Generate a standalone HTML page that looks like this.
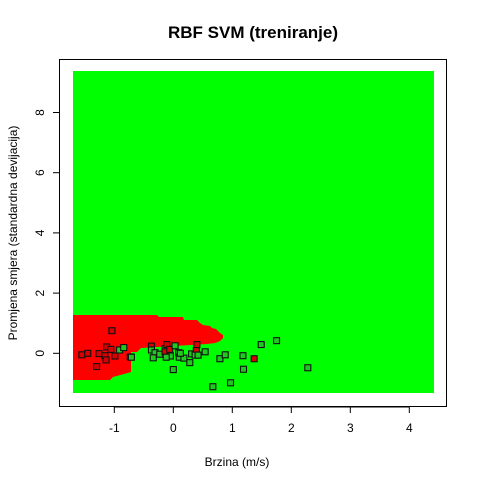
<!DOCTYPE html>
<html><head><meta charset="utf-8"><style>body{margin:0;background:#fff}svg{display:block;font-family:"Liberation Sans",Arial,sans-serif}</style></head>
<body>
<svg width="480" height="480">
<text x="253" y="38" text-anchor="middle" font-size="17" font-weight="bold">RBF SVM (treniranje)</text>
<rect x="73" y="71" width="361" height="322" fill="#00ff00"/>
<polygon fill="#ff0000" points="73,315 157,315 159,317 183,317 184,320 197,320 200,323 203,325 210,326 212,328 216,329 220,333 223,335 223,338 220,341 215,343 207,344 141,348 137,352 131,352 131,372 124,374 113,377 110,380 73,380"/>
<g id="pts"></g>
<rect x="59.5" y="59.5" width="387" height="347" fill="none" stroke="#000"/>
<g id="axes" font-size="12"></g>
<text x="237" y="466" text-anchor="middle" font-size="12">Brzina (m/s)</text>
<text transform="translate(17,233) rotate(-90)" text-anchor="middle" font-size="12">Promjena smjera (standardna devijacija)</text>
</svg>
<script>
const xTicks=[-1,0,1,2,3,4];
const yTicks=[0,2,4,6,8];
const xs=[-1.55,-1.45,-1.30,-1.26,-1.16,-1.13,-1.14,-1.06,-1.04,-0.99,-0.91,-0.84,-0.73,-0.71,-0.37,-0.37,-0.31,-0.34,-0.23,-0.14,-0.14,-0.11,-0.06,0.03,-0.05,-0.12,0.00,0.09,0.10,0.18,0.12,0.28,0.31,0.40,0.39,0.37,0.42,0.54,0.79,0.88,1.18,1.19,0.67,0.97,1.37,1.49,1.75,2.28];
const ys=[-0.05,0.00,-0.44,-0.01,-0.08,0.21,-0.22,0.13,0.75,-0.09,0.11,0.19,-0.12,-0.13,0.24,0.11,0.02,-0.15,-0.03,0.15,0.05,0.29,0.13,0.25,-0.09,-0.13,-0.54,0.02,-0.13,-0.16,0.00,-0.31,-0.02,0.29,0.09,-0.06,-0.06,0.05,-0.18,-0.05,-0.08,-0.53,-1.11,-0.98,-0.18,0.29,0.42,-0.48];
const cls=["r","r","r","r","r","r","r","r","r","r","g","g","r","g","r","g","g","g","g","g","r","r","r","g","g","g","g","g","g","g","g","g","g","r","r","g","g","g","g","g","g","g","g","g","r","g","g","g"];
const X=v=>173.3+59*v, Y=v=>353.3-30.1*v;
const NS="http://www.w3.org/2000/svg";
const pts=document.getElementById('pts');
xs.forEach((x,i)=>{const r=document.createElementNS(NS,'rect');
r.setAttribute('x',X(x)-3);r.setAttribute('y',Y(ys[i])-3);r.setAttribute('width',6);r.setAttribute('height',6);
r.setAttribute('fill',cls[i]=="r"?"#d80000":"#22c822");r.setAttribute('stroke','#111');r.setAttribute('stroke-width','1.1');


pts.appendChild(r);});
const ax=document.getElementById('axes');
xTicks.forEach(t=>{const l=document.createElementNS(NS,'line');l.setAttribute('x1',X(t));l.setAttribute('x2',X(t));l.setAttribute('y1',407);l.setAttribute('y2',413);l.setAttribute('stroke','#000');


ax.appendChild(l);
const s=document.createElementNS(NS,'text');s.setAttribute('x',X(t));s.setAttribute('y',432);s.setAttribute('text-anchor','middle');s.textContent=t;


ax.appendChild(s);});
const xl=document.createElementNS(NS,'line');xl.setAttribute('x1',X(-1));xl.setAttribute('x2',X(4));xl.setAttribute('y1',407);xl.setAttribute('y2',407);xl.setAttribute('stroke','#000');ax.appendChild(xl);
yTicks.forEach(t=>{const l=document.createElementNS(NS,'line');l.setAttribute('x1',53);l.setAttribute('x2',59.5);l.setAttribute('y1',Y(t));l.setAttribute('y2',Y(t));l.setAttribute('stroke','#000');


ax.appendChild(l);
const s=document.createElementNS(NS,'text');s.setAttribute('transform',`translate(44,${Y(t)}) rotate(-90)`);s.setAttribute('text-anchor','middle');s.textContent=t;


ax.appendChild(s);});
</script>
</body></html>
